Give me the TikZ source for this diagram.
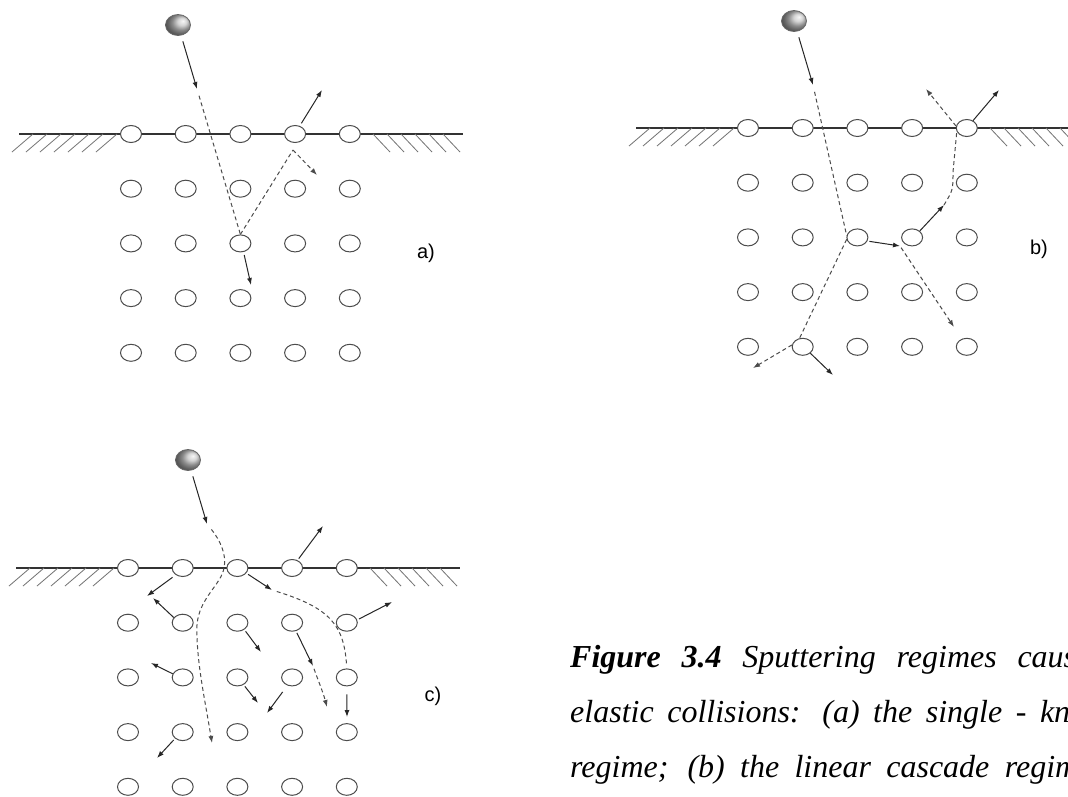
\documentclass[tikz,border=0pt]{standalone}
\usepackage{fontspec}
\setmainfont{Liberation Serif}
\newfontfamily\tagfont{Liberation Sans}
\usetikzlibrary{arrows.meta, shapes.geometric, positioning}
\tikzset{
  atom/.style = {ellipse, draw=black!70, fill=white, line width=1pt,
    minimum width=21pt, minimum height=17pt, inner sep=0pt},
  ion/.style = {ellipse, draw=black!60, line width=0.8pt, minimum width=25pt,
    minimum height=21pt, inner sep=0pt, shading=ball, ball color=gray!45,
    shading angle=-90},
  surface/.style = {line width=2pt, draw=black!80},
  hatch/.style = {line width=0.8pt, draw=black!55},
  hit/.style = {-{Latex[length=7pt,width=5pt]}, line width=1pt, draw=black!85},
  trail/.style = {line width=1pt, draw=black!70, dash pattern=on 4pt off 3pt},
  trailhit/.style = {trail, -{Latex[length=7pt,width=5pt]}},
  tag/.style = {font=\tagfont\fontsize{20}{24}\selectfont},
  caption/.style = {anchor=base west, inner sep=0pt,
    font=\fontsize{32}{38}\selectfont\itshape}
}

% surface row with hatching, then four rows of lattice atoms
\newcommand{\crystal}[3]{%
  \draw[surface] ({#2-112},#3) -- ({#2+332},#3);
  \foreach \k in {0,...,6}
    \draw[hatch] ({#2-14-14*\k},#3) -- ++(-21,18);
  \foreach \k in {0,...,5}
    \draw[hatch] ({#2+242+14*\k},#3) -- ++(17,18);
  \foreach \cc in {1,...,5}
    \node[atom] (#1-s\cc) at ({#2+54.7*(\cc-1)},#3) {};
  \foreach \rr in {1,...,4}
    \foreach \cc in {1,...,5}
      \node[atom] (#1-\rr-\cc) at ({#2+54.7*(\cc-1)},{#3+54.7*\rr}) {};
}

\begin{document}
\begin{tikzpicture}[x=1pt, y=-1pt]

  \useasboundingbox (0,0) rectangle (1068,796);
  \fill[white] (0,0) rectangle (1068,796);

  % (a) single knock-on
  \crystal{a}{131}{134}
  \node[ion] (a-ion) at (178,25) {};
  \coordinate (a-in) at (197,89);
  \coordinate (a-turn) at (293,150);
  \coordinate (a-back) at (317,175);
  \coordinate (a-out) at (322,90);
  \coordinate (a-deep) at (251,285);
  \draw[hit, shorten <=6pt] (a-ion) -- (a-in);
  \draw[trail, shorten <=7pt] (a-in) -- (a-2-3.north);
  \draw[trail] (a-2-3.north) -- (a-turn);
  \draw[trailhit] (a-turn) -- (a-back);
  \draw[hit, shorten <=3pt] (a-s4.60) -- (a-out);
  \draw[hit, shorten <=3pt] (a-2-3.-70) -- (a-deep);
  \node[tag] (a-tag) at (426,253) {a)};

  % (b) linear cascade
  \crystal{b}{748}{128}
  \node[ion] (b-ion) at (794,21) {};
  \coordinate (b-in) at (813,85);
  \coordinate (b-left) at (753,368);
  \coordinate (b-down) at (833,375);
  \coordinate (b-hit) at (900,246);
  \coordinate (b-far) at (954,327);
  \coordinate (b-up) at (944,205);
  \coordinate (b-spray) at (926,89);
  \coordinate (b-out) at (999,90);
  \draw[hit, shorten <=6pt] (b-ion) -- (b-in);
  \draw[trail, shorten <=7pt] (b-in) -- (b-2-3.170);
  \draw[trail] (b-2-3.190) -- (b-4-2.110);
  \draw[trailhit] (b-4-2.170) -- (b-left);
  \draw[hit] (b-4-2.-40) -- (b-down);
  \draw[hit, shorten <=2pt] (b-2-3.-20) -- (b-hit);
  \draw[trailhit, shorten <=2pt] (b-hit) -- (b-far);
  \draw[hit] (b-2-4.40) -- (b-up);
  \draw[trail] (b-up) .. controls (953,190) .. (953,172) -- (b-s5.200);
  \draw[trailhit] (b-s5.170) -- (b-spray);
  \draw[hit] (b-s5.50) -- (b-out);
  \node[tag] (b-tag) at (1039,249) {b)};

  % (c) spike
  \crystal{c}{128}{568}
  \node[ion] (c-ion) at (188,460) {};
  \coordinate (c-in) at (207,524);
  \coordinate (c-sink) at (212,743);
  \coordinate (c-kick) at (272,590);
  \coordinate (c-a1) at (147,596);
  \coordinate (c-a2) at (153,598);
  \coordinate (c-a3) at (323,526);
  \coordinate (c-a4) at (392,602);
  \coordinate (c-a5) at (261,652);
  \coordinate (c-a6) at (313,666);
  \coordinate (c-a7) at (327,707);
  \coordinate (c-a8) at (151,663);
  \coordinate (c-a9) at (258,703);
  \coordinate (c-a10) at (267,713);
  \coordinate (c-a11) at (347,717);
  \coordinate (c-a12) at (157,758);
  \draw[hit, shorten <=6pt] (c-ion) -- (c-in);
  \draw[trailhit, shorten <=7pt] (c-in) .. controls (220,540) and (227,555) .. (224,568)
    .. controls (221,585) and (199,598) .. (197,625)
    .. controls (196,660) and (205,700) .. (c-sink);
  \draw[hit, shorten <=2pt] (c-s3.-30) -- (c-kick);
  \draw[trail, shorten <=5pt, shorten >=3pt] (c-kick) .. controls (330,608) and (344,625) .. (c-2-5.north);
  \draw[hit, shorten <=4pt] (c-s2.225) -- (c-a1);
  \draw[hit] (c-1-2.150) -- (c-a2);
  \draw[hit, shorten <=2pt] (c-s4.55) -- (c-a3);
  \draw[hit, shorten <=2pt] (c-1-5.15) -- (c-a4);
  \draw[hit, shorten <=2pt] (c-1-3.-45) -- (c-a5);
  \draw[hit, shorten <=2pt] (c-1-4.-65) -- (c-a6);
  \draw[trailhit, shorten <=3pt] (c-a6) .. controls (318,680) and (323,692) .. (c-a7);
  \draw[hit] (c-2-2.160) -- (c-a8);
  \draw[hit, shorten <=2pt] (c-2-3.-50) -- (c-a9);
  \draw[hit, shorten <=8pt] (c-2-4.-120) -- (c-a10);
  \draw[hit, shorten <=8pt] (c-2-5.south) -- (c-a11);
  \draw[hit, shorten <=2pt] (c-3-2.-140) -- (c-a12);
  \node[tag] (c-tag) at (433,696) {c)};

  % caption, running past the right edge
  \node[caption] (cap1) at (570,667)
    {\makebox[506pt][s]{\textbf{Figure 3.4} Sputtering regimes caus}};
  \node[caption] (cap2) at (570,722)
    {\makebox[500pt][s]{elastic collisions: (a) the single - kn}};
  \node[caption] (cap3) at (570,777)
    {\makebox[508pt][s]{regime; (b) the linear cascade regim}};

\end{tikzpicture}
\end{document}
